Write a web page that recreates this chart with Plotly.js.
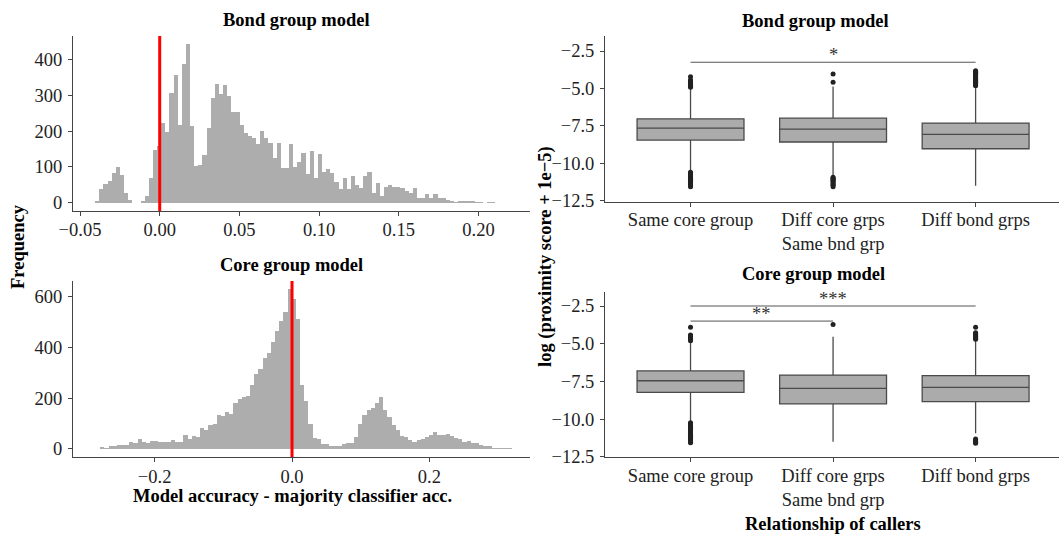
<!DOCTYPE html>
<html><head><meta charset="utf-8">
<script src="https://cdn.plot.ly/plotly-3.0.1.min.js"></script>
<style>html,body{margin:0;padding:0;background:#fff}#chart{width:1059px;height:535px}</style>
</head><body><div id="chart"></div>
<script>
// ---- Histogram data (bin counts) ----
const bondHistCounts = [5, 39, 52, 61, 84, 100, 77, 26, 9, 0, 0,
  5, 20, 70, 147, 158, 222, 197, 306, 357, 217, 386, 444, 214, 102, 104, 133, 209, 292, 331, 304,
  329, 298, 254, 254, 217, 194, 187, 180, 164, 201, 180, 166, 124, 166, 96, 96, 164, 101, 115, 140,
  80, 144, 70, 135, 87, 93, 82, 59, 37, 68, 37, 75, 49, 42, 75, 87, 26, 56, 20, 45,
  49, 45, 45, 40, 34, 26, 42, 14, 14, 24, 12, 24, 12, 12, 9, 6, 3, 5, 6, 6,
  4, 2, 3, 0, 2, 1];
const bondHistStart = -0.0392;   // centre of first bin
const bondHistWidth = 0.002588;  // bin width

const coreHistCounts = [1, 1, 0, 8, 4, 10, 13, 14, 16, 17, 26, 24, 38, 28, 25, 30, 31, 29, 28, 26,
  34, 29, 28, 55, 41, 52, 47, 81, 76, 93, 100, 133, 131, 146,
  136, 180, 196, 206, 209, 252, 295, 314, 357, 379, 420, 466, 505, 541,
  630, 590, 512, 252, 188, 100, 44, 40, 18, 18, 11, 11, 13, 20, 22, 24, 46, 98, 135, 154, 160, 180, 206,
  154, 125, 94, 75, 51, 46, 35, 26, 35, 39, 46, 55, 66, 54, 56, 59, 51, 42, 38, 29, 30, 25, 25, 16, 12, 12, 3, 3, 3, 4, 4];
const coreHistStart = -0.2944;
const coreHistWidth = 0.00606;

const histTicksBond = [-0.05, 0, 0.05, 0.10, 0.15, 0.20];
const histTicksCore = [-0.2, 0, 0.2];
const histYTicksBond = [0, 100, 200, 300, 400];
const histYTicksCore = [0, 200, 400, 600];

// ---- Box plot data ----
const groups = ["Same core group", "Diff core grps<br>Same bnd grp", "Diff bond grps"];
const bondQ1 = [-8.44, -8.57, -9.02];
const bondMedian = [-7.64, -7.71, -8.06];
const bondQ3 = [-7.02, -6.98, -7.31];
const bondLowerWhisker = [-10.52, -10.85, -11.48];
const bondUpperWhisker = [-4.93, -4.87, -4.85];
const bondOutSame = [-4.21, -4.43, -4.5, -4.56, -4.62, -4.68, -4.74, -4.8, -4.86, -4.91,
  -10.58, -10.64, -10.7, -10.76, -10.82, -10.88, -10.94, -11.0, -11.06, -11.12, -11.18, -11.24, -11.3, -11.36, -11.42, -11.48, -11.55];
const bondOutDiffCore = [-4.03, -4.58, -10.92, -10.98, -11.04, -11.1, -11.16, -11.22, -11.3, -11.38, -11.46, -11.55];
const bondOutDiffBond = [-3.81, -3.86, -3.92, -3.98, -4.04, -4.1, -4.16, -4.22, -4.28, -4.34, -4.4, -4.46, -4.52, -4.58, -4.64, -4.7, -4.76, -4.82];
const bondSig = {y: -3.25, label: "*"};

const coreQ1 = [-8.23, -9.0, -8.85];
const coreMedian = [-7.46, -7.96, -7.9];
const coreQ3 = [-6.81, -7.08, -7.12];
const coreLowerWhisker = [-10.2, -11.5, -10.95];
const coreUpperWhisker = [-4.87, -4.54, -4.76];
const coreOutSame = [-3.91, -4.42, -4.48, -4.54, -4.6, -4.66, -4.72, -4.8,
  -10.25, -10.32, -10.4, -10.47, -10.55, -10.62, -10.7, -10.77, -10.85, -10.92, -11.0, -11.07, -11.15, -11.22, -11.3, -11.37, -11.45, -11.52, -11.57];
const coreOutDiffCore = [-3.72];
const coreOutDiffBond = [-3.91, -4.27, -4.33, -4.39, -4.45, -4.51, -4.57, -4.64, -4.71, -11.33, -11.4, -11.47, -11.55, -11.61];
const coreSigA = {y: -2.5, label: "***"};   // Same core vs Diff bond
const coreSigB = {y: -3.5, label: "**"};    // Same core vs Diff core

// ---- helpers ----
const W = 1059, H = 535;
const px = x => x / W, py = y => 1 - y / H;
const FONT = "Liberation Serif, Times New Roman, serif";
const FS = 18.5;
const AX = '#444';
const tickFont = {family: FONT, size: FS, color: '#222'};

function outlierTrace(xa, ya, lists) {
  const xs = [], ys = [];
  lists.forEach((arr, i) => arr.forEach(v => { xs.push(groups[i]); ys.push(v); }));
  return {type: 'scatter', mode: 'markers', x: xs, y: ys, xaxis: xa, yaxis: ya,
    marker: {color: '#222', size: 5}, hoverinfo: 'skip', showlegend: false};
}
function boxTrace(xa, ya, q1, med, q3, lo, hi) {
  return {type: 'box', x: groups, q1: q1, median: med, q3: q3, lowerfence: lo, upperfence: hi,
    xaxis: xa, yaxis: ya, width: 0.75, whiskerwidth: 0, boxpoints: false,
    fillcolor: '#ababab', line: {color: '#4a4a4a', width: 1.3}, hoverinfo: 'skip', showlegend: false};
}
function sigLine(xa, ya, i0, i1, y) {
  return {type: 'scatter', mode: 'lines', x: [groups[i0], groups[i1]], y: [y, y], xaxis: xa, yaxis: ya,
    line: {color: '#555', width: 1}, hoverinfo: 'skip', showlegend: false};
}

const traces = [
  {type: 'bar', x0: bondHistStart, dx: bondHistWidth, y: bondHistCounts, xaxis: 'x', yaxis: 'y',
   marker: {color: '#adadad', line: {width: 0}}, hoverinfo: 'skip', showlegend: false},
  {type: 'bar', x0: coreHistStart, dx: coreHistWidth, y: coreHistCounts, xaxis: 'x2', yaxis: 'y2',
   marker: {color: '#adadad', line: {width: 0}}, hoverinfo: 'skip', showlegend: false},
  boxTrace('x3', 'y3', bondQ1, bondMedian, bondQ3, bondLowerWhisker, bondUpperWhisker),
  outlierTrace('x3', 'y3', [bondOutSame, bondOutDiffCore, bondOutDiffBond]),
  sigLine('x3', 'y3', 0, 2, bondSig.y),
  boxTrace('x4', 'y4', coreQ1, coreMedian, coreQ3, coreLowerWhisker, coreUpperWhisker),
  outlierTrace('x4', 'y4', [coreOutSame, coreOutDiffCore, coreOutDiffBond]),
  sigLine('x4', 'y4', 0, 2, coreSigA.y),
  sigLine('x4', 'y4', 0, 1, coreSigB.y)
];

const baseAxis = {showline: true, linecolor: AX, linewidth: 1, ticks: 'outside', ticklen: 4,
  tickcolor: AX, tickwidth: 1, showgrid: false, zeroline: false, tickfont: tickFont, fixedrange: true};

const leftDom = [px(73), px(530)], rightDom = [px(605), 1];

const titleFont = {family: FONT, size: FS, color: '#000'};
function paperText(text, x, y, angle) {
  const a = {text: text, xref: 'paper', yref: 'paper', x: px(x), y: py(y), showarrow: false,
    xanchor: 'center', yanchor: 'middle', font: titleFont};
  if (angle) a.textangle = angle;
  return a;
}

const layout = {
  width: W, height: H, margin: {l: 0, r: 0, t: 0, b: 0},
  paper_bgcolor: '#fff', plot_bgcolor: '#fff', bargap: 0, barmode: 'overlay', showlegend: false,
  font: {family: FONT},
  xaxis: Object.assign({}, baseAxis, {domain: leftDom, anchor: 'y', range: [-0.0544, 0.2323],
    tickvals: histTicksBond, tickformat: '.2f', ticklabelstandoff: -2}),
  yaxis: Object.assign({}, baseAxis, {domain: [py(211), py(36)], anchor: 'x', range: [-23, 465],
    tickvals: histYTicksBond, ticklabelstandoff: 2}),
  xaxis2: Object.assign({}, baseAxis, {domain: leftDom, anchor: 'y2', range: [-0.3188, 0.3464],
    tickvals: histTicksCore, tickformat: '.1f', ticklabelstandoff: -1}),
  yaxis2: Object.assign({}, baseAxis, {domain: [py(457), py(281)], anchor: 'x2', range: [-31.5, 661],
    tickvals: histYTicksCore, ticklabelstandoff: 2}),
  xaxis3: Object.assign({}, baseAxis, {domain: rightDom, anchor: 'y3', type: 'category',
    categoryarray: groups, range: [-0.6, 2.585], ticklabelstandoff: -3}),
  yaxis3: Object.assign({}, baseAxis, {domain: [py(201.7), py(36)], anchor: 'x3', range: [-12.55, -1.5],
    tickvals: [-12.5, -10, -7.5, -5, -2.5], tickformat: '.1f', ticklabelstandoff: 2}),
  xaxis4: Object.assign({}, baseAxis, {domain: rightDom, anchor: 'y4', type: 'category',
    categoryarray: groups, range: [-0.6, 2.585], ticklabelstandoff: -3}),
  yaxis4: Object.assign({}, baseAxis, {domain: [py(457.3), py(291.7)], anchor: 'x4', range: [-12.54, -1.55],
    tickvals: [-12.5, -10, -7.5, -5, -2.5], tickformat: '.1f', ticklabelstandoff: 2}),
  shapes: [
    {type: 'line', xref: 'x', yref: 'y domain', x0: 0, x1: 0, y0: 0, y1: 1, line: {color: '#ff0000', width: 3}},
    {type: 'line', xref: 'x2', yref: 'y2 domain', x0: 0, x1: 0, y0: 0, y1: 1, line: {color: '#ff0000', width: 3}}
  ],
  annotations: [
    paperText('<b>Bond group model</b>', 296, 20),
    paperText('<b>Core group model</b>', 291, 265),
    paperText('<b>Bond group model</b>', 815, 21),
    paperText('<b>Core group model</b>', 813, 274),
    paperText('<b>Frequency</b>', 18, 247, -90),
    paperText('<b>Model accuracy - majority classifier acc.</b>', 292, 496),
    paperText('<b>log (proximity score + 1e\u22125)</b>', 545, 257, -90),
    paperText('<b>Relationship of callers</b>', 833, 524),
    {text: bondSig.label, xref: 'x3', yref: 'y3', x: groups[1], y: bondSig.y, showarrow: false,
     xanchor: 'center', yanchor: 'bottom', yshift: -5, font: {family: FONT, size: FS, color: '#333'}},
    {text: coreSigA.label, xref: 'x4', yref: 'y4', x: groups[1], y: coreSigA.y, showarrow: false,
     xanchor: 'center', yanchor: 'bottom', yshift: -5, font: {family: FONT, size: FS, color: '#333'}},
    {text: coreSigB.label, xref: 'x4', yref: 'y4', x: 0.5, y: coreSigB.y, showarrow: false,
     xanchor: 'center', yanchor: 'bottom', yshift: -5, font: {family: FONT, size: FS, color: '#333'}}
  ]
};

Plotly.newPlot('chart', traces, layout, {staticPlot: true, displayModeBar: false});
</script>
</body></html>
